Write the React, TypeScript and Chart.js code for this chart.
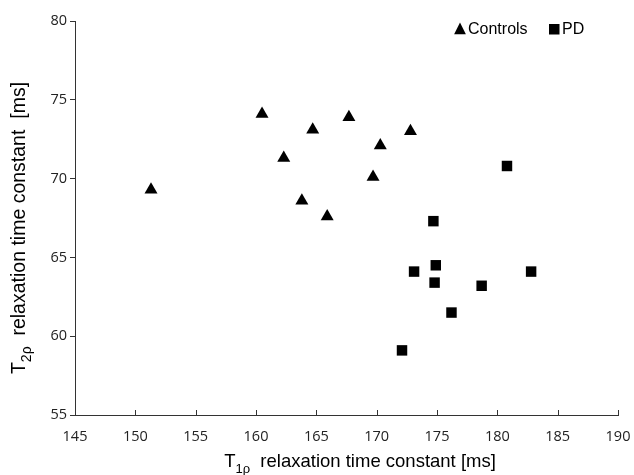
import React, { useEffect, useRef } from "react";
import { Chart, registerables } from "chart.js";

Chart.register(...registerables);

const controlsX = [151.3, 160.5, 162.3, 163.8, 164.7, 165.9, 167.7, 169.7, 170.3, 172.8];
const controlsY = [69.3, 74.1, 71.3, 68.6, 73.1, 67.6, 73.9, 70.1, 72.1, 73.0];
const pdX = [172.1, 173.1, 174.7, 174.8, 174.9, 176.2, 178.7, 180.8, 182.8];
const pdY = [59.1, 64.1, 67.3, 63.4, 64.5, 61.5, 63.2, 70.8, 64.1];
const seriesNames = ["Controls", "PD"];
const xRange = [145, 190];
const yRange = [55, 80];
const tickStep = 5;
const xTitleMain = "T";
const xTitleSub = "1ρ";
const xTitleRest = "  relaxation time constant [ms]";
const yTitleMain = "T";
const yTitleSub = "2ρ";
const yTitleRest = "  relaxation time constant  [ms]";

const AXIS = "#333333";
const FONT = "'Liberation Sans', Arial, sans-serif";
const TICKFONT = "'Open Sans', 'Liberation Sans', sans-serif";

function drawSubTitle(ctx: CanvasRenderingContext2D, main: string, sub: string, rest: string, size: number) {
  ctx.font = `${size}px ${FONT}`;
  const wMain = ctx.measureText(main).width;
  const wRest = ctx.measureText(rest).width;
  ctx.font = `${Math.round(size * 0.7)}px ${FONT}`;
  const wSub = ctx.measureText(sub).width;
  const total = wMain + wSub + wRest;
  let x = -total / 2;
  ctx.textAlign = "left";
  ctx.textBaseline = "alphabetic";
  ctx.fillStyle = "#000";
  ctx.font = `${size}px ${FONT}`;
  ctx.fillText(main, x, 0);
  x += wMain;
  ctx.font = `${Math.round(size * 0.7)}px ${FONT}`;
  ctx.fillText(sub, x, size * 0.3);
  x += wSub;
  ctx.font = `${size}px ${FONT}`;
  ctx.fillText(rest, x, 0);
}

const decorPlugin = {
  id: "decor",
  afterDraw(chart: any) {
    const ctx: CanvasRenderingContext2D = chart.ctx;
    const xs = chart.scales.x;
    const area = chart.chartArea;
    ctx.save();
    ctx.strokeStyle = AXIS;
    ctx.lineWidth = 1;
    for (let v = xRange[0]; v <= xRange[1]; v += tickStep) {
      const px = Math.round(xs.getPixelForValue(v)) + 0.5;
      ctx.beginPath();
      ctx.moveTo(px, area.bottom);
      ctx.lineTo(px, area.bottom - 5);
      ctx.stroke();
    }
    ctx.save();
    ctx.translate(360, 467);
    drawSubTitle(ctx, xTitleMain, xTitleSub, xTitleRest, 18.5);
    ctx.restore();
    ctx.save();
    ctx.translate(25, 228);
    ctx.rotate(-Math.PI / 2);
    drawSubTitle(ctx, yTitleMain, yTitleSub, yTitleRest, 19.5);
    ctx.restore();
    const ly = 29;
    ctx.fillStyle = "#000";
    const triR = 6.5;
    const tx = 460;
    ctx.beginPath();
    ctx.moveTo(tx, ly - triR);
    ctx.lineTo(tx + triR * 0.9, ly + triR * 0.8);
    ctx.lineTo(tx - triR * 0.9, ly + triR * 0.8);
    ctx.closePath();
    ctx.fill();
    ctx.fillRect(549, ly - 5, 10.5, 10.5);
    ctx.font = `16px ${FONT}`;
    ctx.textBaseline = "middle";
    ctx.textAlign = "left";
    ctx.fillText(seriesNames[0], 468, ly + 1);
    ctx.fillText(seriesNames[1], 562, ly + 1);
    ctx.restore();
  },
};

export default function App() {
  const ref = useRef<HTMLCanvasElement | null>(null);
  useEffect(() => {
    if (!ref.current) return;
    const chart = new Chart(ref.current, {
      type: "scatter",
      data: {
        datasets: [
          {
            label: seriesNames[0],
            data: controlsX.map((x, i) => ({ x, y: controlsY[i] })),
            pointStyle: "triangle",
            radius: 7.5,
            backgroundColor: "#000",
            borderColor: "#000",
            borderWidth: 0,
          },
          {
            label: seriesNames[1],
            data: pdX.map((x, i) => ({ x, y: pdY[i] })),
            pointStyle: "rect",
            radius: 7.4,
            backgroundColor: "#000",
            borderColor: "#000",
            borderWidth: 0,
          },
        ],
      },
      options: {
        animation: false,
        responsive: false,
        devicePixelRatio: 1,
        layout: { padding: { top: 21, right: 16, left: 0, bottom: 0 } },
        plugins: { legend: { display: false }, tooltip: { enabled: false } },
        scales: {
          x: {
            type: "linear",
            min: xRange[0],
            max: xRange[1],
            afterFit: (s: any) => {
              s.height = 60;
              s.paddingRight = 0;
            },
            ticks: { stepSize: tickStep, padding: 13, color: "#222", font: { size: 14.5, family: TICKFONT } },
            grid: { display: false, drawTicks: false },
            border: { display: true, color: AXIS, width: 1 },
          },
          y: {
            type: "linear",
            min: yRange[0],
            max: yRange[1],
            afterFit: (s: any) => {
              s.width = 75;
            },
            ticks: { stepSize: tickStep, padding: 3, color: "#222", font: { size: 14.5, family: TICKFONT } },
            grid: { display: true, drawOnChartArea: false, drawTicks: true, tickLength: 5, color: AXIS },
            border: { display: true, color: AXIS, width: 1 },
          },
        },
      },
      plugins: [decorPlugin],
    });
    return () => chart.destroy();
  }, []);
  return (
    <div style={{ position: "fixed", left: 0, top: 0, width: 634, height: 475, background: "#fff" }}>
      <canvas ref={ref} width={634} height={475} />
    </div>
  );
}
